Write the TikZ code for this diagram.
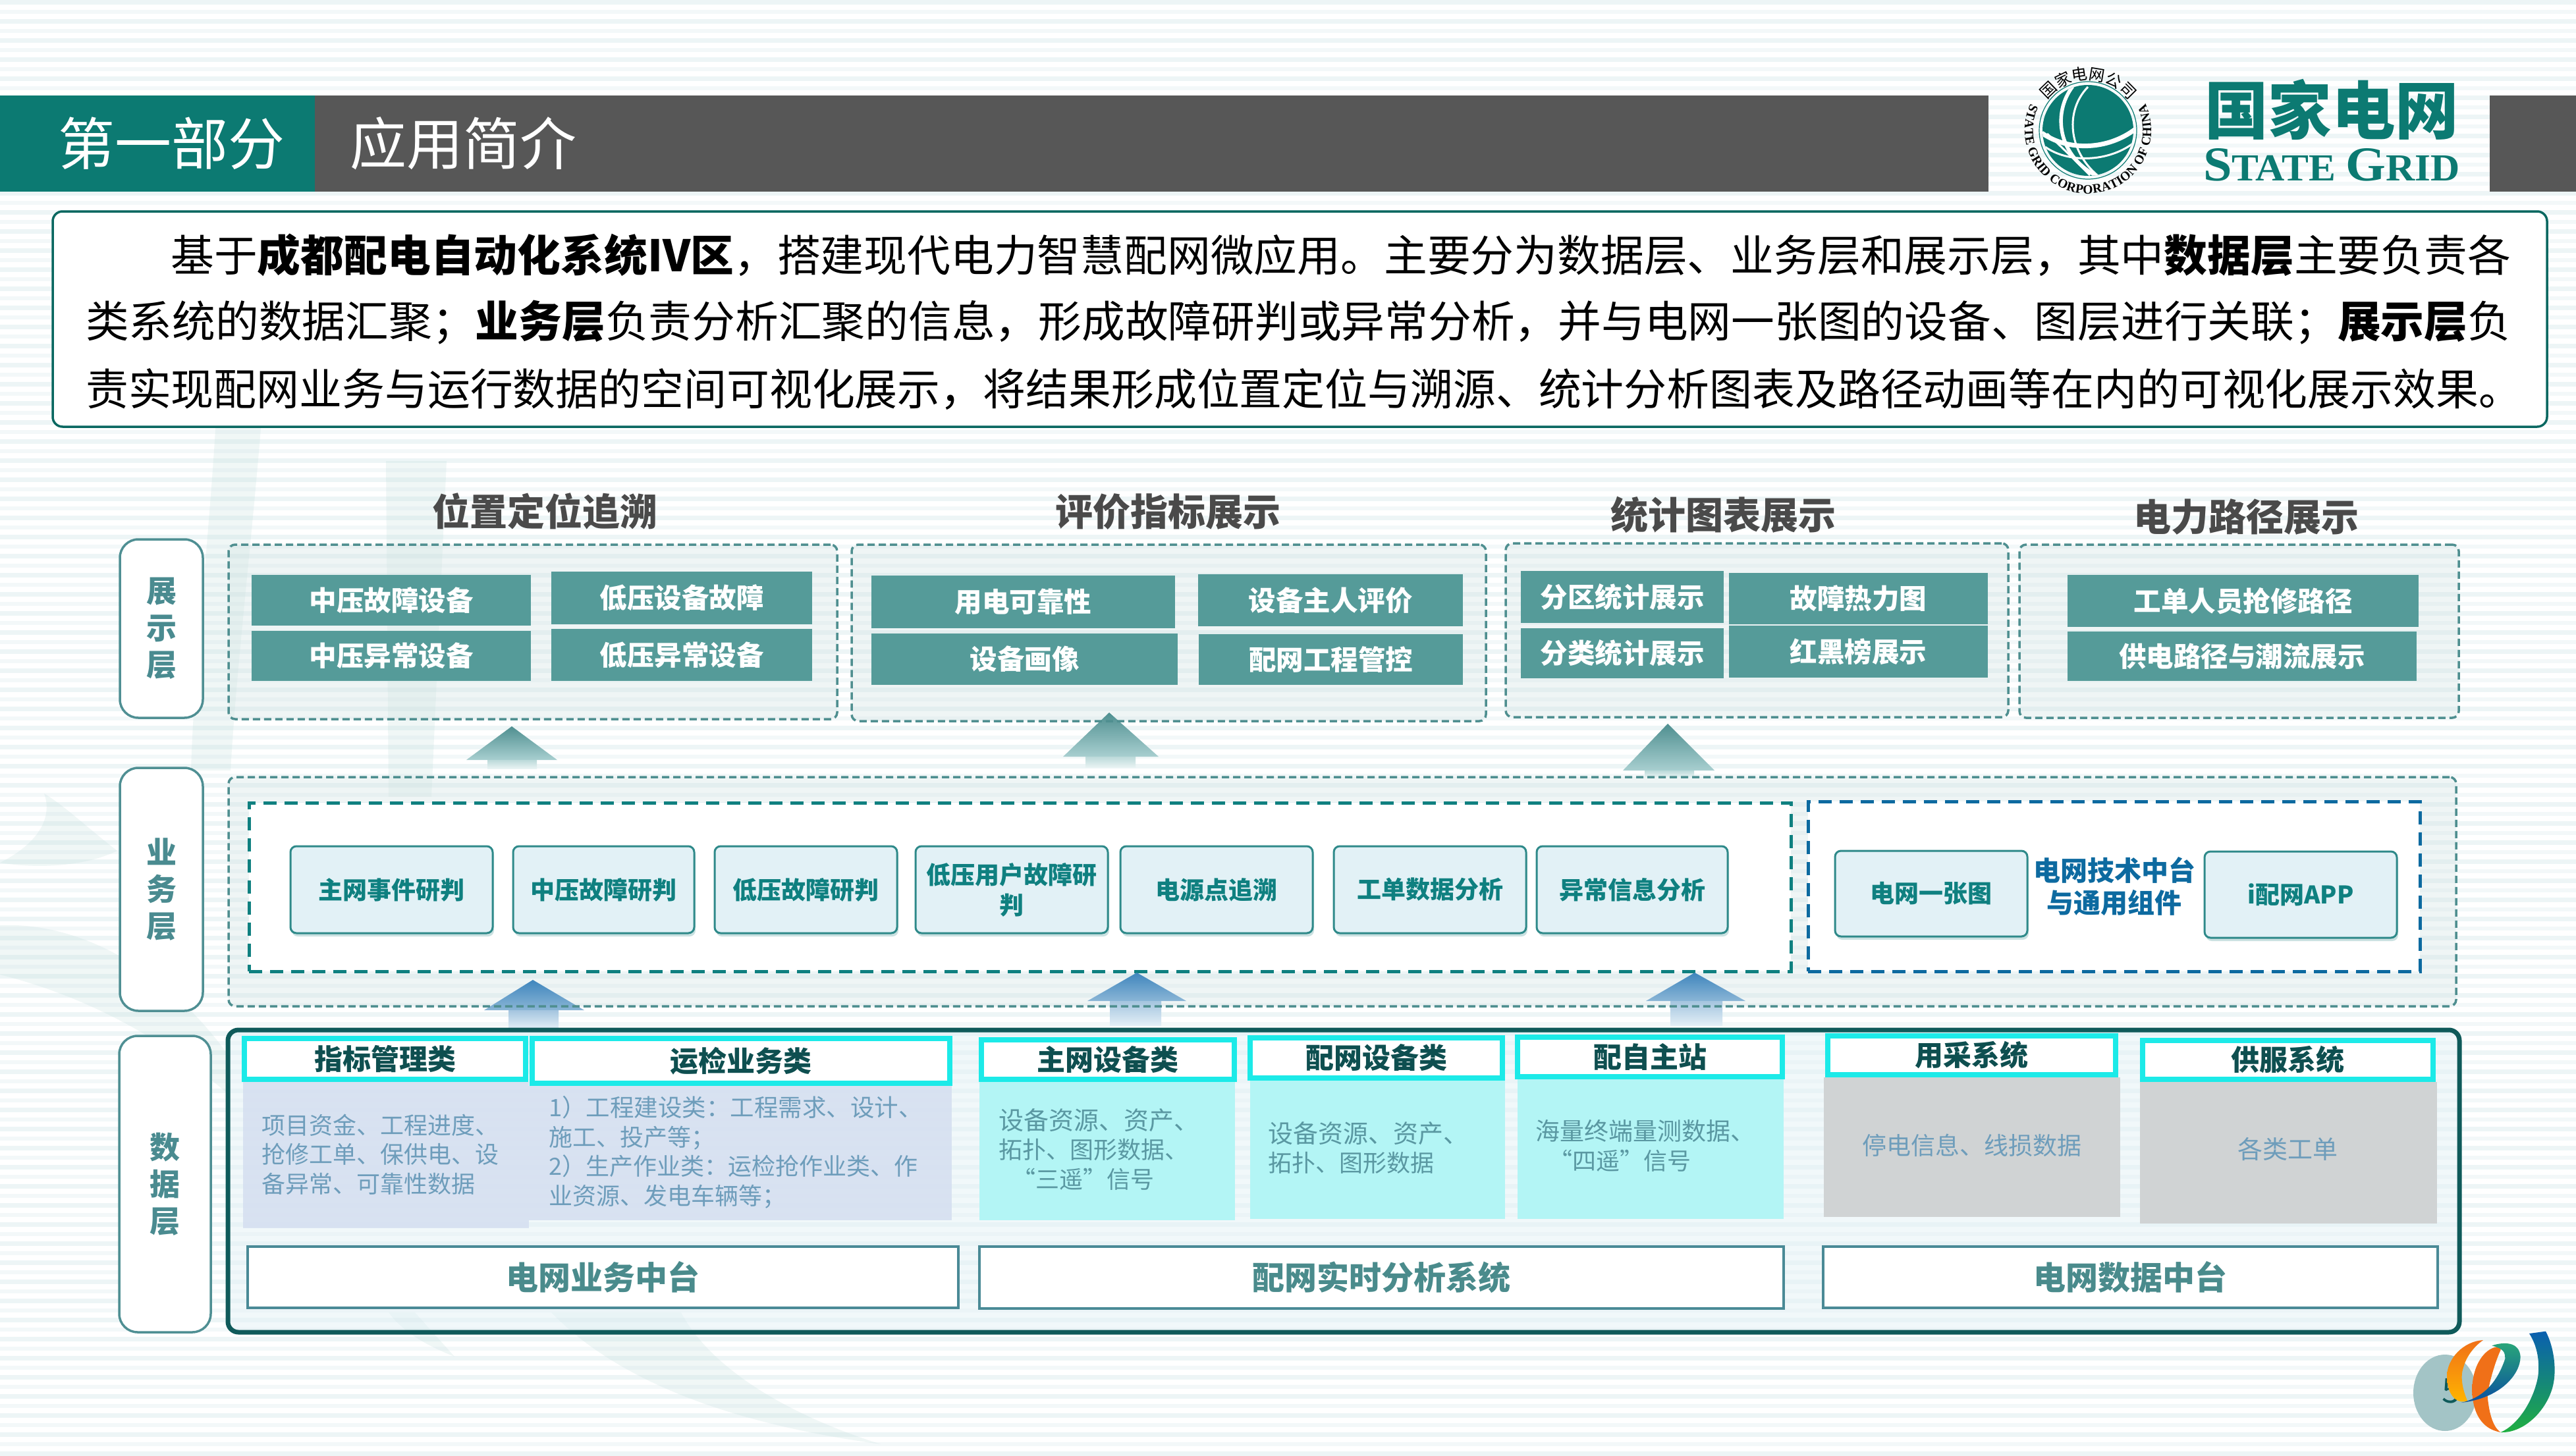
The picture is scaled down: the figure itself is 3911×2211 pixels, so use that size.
\documentclass[tikz,border=0pt]{standalone}
\usepackage{fontspec}
\usepackage{graphicx}
\setmainfont{Noto Sans CJK SC}
\newfontfamily\sealserif{Liberation Serif}[BoldFont={Liberation Serif Bold}]
\usetikzlibrary{shadows,decorations.text}
\definecolor{barteal}{HTML}{0C7A72}
\definecolor{bargray}{HTML}{575757}
\definecolor{gboxc}{HTML}{559B99}
\definecolor{layc}{HTML}{4F8F93}
\definecolor{layt}{HTML}{4A8B90}
\definecolor{dashc}{HTML}{4F8F90}
\definecolor{innerc}{HTML}{0F8080}
\definecolor{innerb}{HTML}{0D6AA0}
\definecolor{bizfill}{HTML}{E2F1F6}
\definecolor{bizline}{HTML}{2F8A8A}
\definecolor{biztext}{HTML}{0F8080}
\definecolor{darkpanel}{HTML}{0F5A5A}
\definecolor{cyanline}{HTML}{1CEAE8}
\definecolor{heada}{HTML}{0E4F50}
\definecolor{lavc}{HTML}{D6E0F1}
\definecolor{cyanfill}{HTML}{B3F5F5}
\definecolor{grayfill}{HTML}{D0D3D4}
\definecolor{bodyblue}{HTML}{6E9DBB}
\definecolor{bodyteal}{HTML}{5A98A2}
\definecolor{platline}{HTML}{4A8A96}
\definecolor{plattext}{HTML}{4A8B8C}
\definecolor{titleg}{HTML}{4A4A4A}
\definecolor{stripe}{HTML}{F3F8F9}
\definecolor{stripeb}{HTML}{EDF5F6}
\definecolor{swoo}{HTML}{B7D8D6}
\definecolor{emblemg}{HTML}{A3C4C6}
\definecolor{ra}{HTML}{0A5FB0}\definecolor{rb}{HTML}{1A90A8}\definecolor{rc}{HTML}{20B040}
\definecolor{oa}{HTML}{F07018}\definecolor{ob}{HTML}{FFB400}
\definecolor{ga}{HTML}{2AA878}\definecolor{gb}{HTML}{1580C8}\definecolor{gc}{HTML}{0A4FA0}
\newcommand{\bx}[7]{%
  \pgfmathsetmacro\cxx{(#3+#5)/2}%
  \pgfmathsetmacro\cyy{(#4+#6)/2}%
  \pgfmathsetmacro\ww{#5-#3}%
  \pgfmathsetmacro\hh{#6-#4}%
  \node[#1,minimum width=\ww pt,minimum height=\hh pt] (#2) at (\cxx,\cyy) {#7};}
\newcommand{\fitline}[2]{\resizebox{#1pt}{\height}{#2}}
\tikzset{
  boxbase/.style={inner sep=0pt,outer sep=0pt,align=center},
  layerbox/.style={boxbase,draw=layc,line width=3.5pt,fill=white,rounded corners=28pt,text=layt,font=\fontsize{46}{56}\selectfont\bfseries},
  panelbox/.style={boxbase,draw=dashc,line width=3.5pt,dash pattern=on 11pt off 6pt,rounded corners=10pt},
  innerbox/.style={boxbase,draw=innerc,line width=5pt,dash pattern=on 20pt off 12pt,fill=white},
  innerboxb/.style={innerbox,draw=innerb},
  gbox/.style={boxbase,fill=gboxc,text=white,font=\fontsize{41.5}{49}\selectfont\bfseries},
  bizbox/.style={boxbase,draw=bizline,line width=3pt,fill=bizfill,rounded corners=9pt,text=biztext,font=\fontsize{37}{46}\selectfont\bfseries,drop shadow={shadow xshift=2pt,shadow yshift=-5pt,opacity=.25,fill=bizline}},
  ttl/.style={inner sep=0pt,text=titleg,font=\fontsize{57}{60}\selectfont\bfseries},
  cathead/.style={boxbase,draw=cyanline,line width=8pt,fill=white,text=heada,font=\fontsize{43}{48}\selectfont\bfseries},
  lavbox/.style={boxbase,fill=lavc,opacity=.9},
  cyanbox/.style={boxbase,fill=cyanfill},
  graybox/.style={boxbase,fill=grayfill},
  bodyt/.style={inner sep=0pt,anchor=west,align=left,text=bodyteal,font=\fontsize{36}{44.5}\selectfont},
  bodyb/.style={bodyt,text=bodyblue},
  platbox/.style={boxbase,draw=platline,line width=3.5pt,fill=white,text=plattext,font=\fontsize{49}{54}\selectfont\bfseries},
  introline/.style={inner sep=0pt,anchor=west,text=black,font=\fontsize{66}{75}\selectfont},
  swoosh/.style={fill=swoo,opacity=.2},
  panelfill/.style={fill=dashc!25,opacity=.35,rounded corners=10pt},
}
\newcommand{\blockup}[9]{%
 % top-x top-y headL headR base-y shaftL shaftR shaft-end, colour prefix
 \shade[top color=#9a,bottom color=#9b] (#1,#2) -- (#4,#5) -- (#3,#5) -- cycle;
 \shade[top color=#9c,bottom color=#9d] (#6,#5) -- (#7,#5) -- (#7,#8) -- (#6,#8) -- cycle;}
\colorlet{Ta}{dashc}\definecolor{Tb}{HTML}{A8CFD0}\definecolor{Tc}{HTML}{BBD9D9}\definecolor{Td}{HTML}{E8F3F3}
\definecolor{Ba}{HTML}{3F86BD}\definecolor{Bb}{HTML}{8AB5D6}\definecolor{Bc}{HTML}{A4C5DF}\definecolor{Bd}{HTML}{E2EEF6}
\begin{document}
\begin{tikzpicture}[x=1pt,y=-1pt]
\useasboundingbox (0,0) rectangle (3911,2211);
% background
\fill[white] (0,0) rectangle (3911,2211);
\foreach \yy in {0,29,...,2211}{
  \fill[stripeb] (0,\yy) rectangle (3911,\yy+7);
  \fill[stripe] (0,\yy+14.5) rectangle (3911,\yy+21);
}
% pale background swooshes
\fill[swoosh] (330,600) -- (400,600) .. controls (385,800) and (360,1000) .. (350,1170) -- (290,1170) .. controls (295,1000) and (320,800) .. (330,600) -- cycle;
\fill[swoosh] (586,700) -- (678,700) -- (655,1210) -- (590,1210) -- cycle;
\fill[swoosh] (0,1310) .. controls (60,1320) and (130,1315) .. (178,1292) .. controls (130,1255) and (100,1225) .. (67,1205) .. controls (80,1240) and (60,1280) .. (0,1310) -- cycle;
\fill[swoosh] (0,1405) .. controls (120,1400) and (250,1470) .. (345,1600) -- (345,1660) .. controls (240,1570) and (120,1510) .. (0,1480) -- cycle;
\fill[swoosh] (837,1993) -- (1034,1993) .. controls (1080,2080) and (1200,2150) .. (1337,2193) .. controls (1170,2170) and (960,2120) .. (837,1993) -- cycle;
\fill[swoosh] (590,1993) -- (630,1993) -- (690,2060) .. controls (640,2040) and (610,2020) .. (590,1993) -- cycle;
% header bars
\fill[barteal] (0,145) rectangle (478,291);
\fill[bargray] (478,145) rectangle (3019,291);
\fill[bargray] (3780,145) rectangle (3911,291);
\node[inner sep=0pt,text=white,font=\fontsize{86}{90}\selectfont] (parttitle) at (260,218) {第一部分};
\node[inner sep=0pt,text=white,font=\fontsize{86}{90}\selectfont] (subtitle) at (703,218) {应用简介};
% State Grid seal
\begin{scope}[shift={(3170,198)},x=1pt,y=1pt]
  \fill[barteal] (0,0) circle (69);
  \draw[barteal,line width=1.2pt] (0,0) circle (74);
  \begin{scope}
    \clip (0,0) circle (69);
    \draw[white,line width=5.5pt] (-23,67) .. controls (-55,25) and (-45,-40) .. (15,-70);
    \draw[white,line width=3pt] (0,66) .. controls (-35,30) and (-30,-30) .. (14,-68);
    \draw[white,line width=7pt] (-70,-4) .. controls (-30,-32) and (30,-30) .. (72,2);
    \draw[white,line width=3pt] (-65,-25) .. controls (-30,-50) and (30,-48) .. (68,-20);
    \draw[white,line width=3pt] (-62,-5) .. controls (-40,-25) and (-20,-45) .. (3,-68);
  \end{scope}
  \path[decorate,decoration={text along path,text align={fit to path},text={|\fontsize{19.5}{20}\selectfont\sealserif\bfseries|STATE GRID CORPORATION OF CHINA}}] (155:96) arc (155:385:96);
  \path[decorate,decoration={text along path,text align={fit to path},text={|\fontsize{24}{24}\selectfont|国家电网公司}}] (143:77) arc (143:36:77);
\end{scope}
\node[inner sep=0pt,text=barteal,font=\fontsize{96}{100}\selectfont\bfseries] (sgcn) at (3540,166) {\resizebox{386pt}{\height}{国家电网}};
\node[inner sep=0pt,text=barteal] (sgen) at (3540,250) {\resizebox{390pt}{\height}{\sealserif\bfseries\fontsize{74}{74}\selectfont S\fontsize{58}{58}\selectfont TATE \fontsize{74}{74}\selectfont G\fontsize{58}{58}\selectfont RID}};
% intro box
\bx{boxbase,draw=barteal!85!black,line width=3.5pt,fill=white,rounded corners=15pt}{introbox}{80}{321}{3867}{648}{}
\node[introline] (intro1) at (259,387) {\fitline{3553}{基于\textbf{成都配电自动化系统IV区}，搭建现代电力智慧配网微应用。主要分为数据层、业务层和展示层，其中\textbf{数据层}主要负责各}};
\node[introline] (intro2) at (130,490) {\fitline{3682}{类系统的数据汇聚；\textbf{业务层}负责分析汇聚的信息，形成故障研判或异常分析，并与电网一张图的设备、图层进行关联；\textbf{展示层}负}};
\node[introline] (intro3) at (130,591) {\fitline{3698}{责实现配网业务与运行数据的空间可视化展示，将结果形成位置定位与溯源、统计分析图表及路径动画等在内的可视化展示效果。}};
% panel titles
\node[ttl] (t1) at (827,776) {位置定位追溯};
\node[ttl] (t2) at (1773,777) {评价指标展示};
\node[ttl] (t3) at (2616,782) {统计图表展示};
\node[ttl] (t4) at (3410,785) {电力路径展示};
% panel fills
\fill[panelfill] (347,827) rectangle (1271,1092);
\fill[panelfill] (1293,827) rectangle (2256,1095);
\fill[panelfill] (2286,825) rectangle (3049,1089);
\fill[panelfill] (3066,827) rectangle (3733,1090);
\fill[panelfill] (347,1180) rectangle (3729,1528);
\fill[fill=bizfill,opacity=.45,rounded corners=14pt] (346,1564) rectangle (3734,2023);
% inner dashed boxes
\bx{innerbox}{biz1}{378}{1219}{2719}{1475}{}
\bx{innerboxb}{biz2}{2745}{1217}{3674}{1475}{}
% block arrows
\blockup{777}{1103}{708}{846}{1154}{740}{815}{1167}{T}
\blockup{1684}{1082}{1614}{1759}{1149}{1648}{1724}{1165}{T}
\blockup{2532}{1099}{2464}{2603}{1170}{2497}{2572}{1180}{T}
\blockup{809}{1488}{735}{887}{1534}{772}{848}{1562}{B}
\blockup{1726}{1477}{1651}{1801}{1520}{1685}{1763}{1557}{B}
\blockup{2573}{1477}{2499}{2650}{1520}{2536}{2615}{1557}{B}
% panel borders
\bx{panelbox}{p1}{347}{827}{1271}{1092}{}
\bx{panelbox}{p2}{1293}{827}{2256}{1095}{}
\bx{panelbox}{p3}{2286}{825}{3049}{1089}{}
\bx{panelbox}{p4}{3066}{827}{3733}{1090}{}
\bx{panelbox}{pb}{347}{1180}{3729}{1528}{}
\bx{boxbase,draw=darkpanel,line width=7pt,rounded corners=16pt}{pd}{346}{1564}{3734}{2023}{}
% layer labels
\bx{layerbox}{l1}{182}{819}{308}{1090}{展\\示\\层}
\bx{layerbox}{l2}{182}{1166}{308}{1535}{业\\务\\层}
\bx{layerbox}{l3}{181}{1573}{320}{2023}{数\\据\\层}
% display layer boxes
\bx{gbox}{a1}{382}{873}{806}{950}{中压故障设备}
\bx{gbox}{a2}{382}{958}{806}{1034}{中压异常设备}
\bx{gbox}{a3}{837}{868}{1233}{948}{低压设备故障}
\bx{gbox}{a4}{837}{955}{1233}{1034}{低压异常设备}
\bx{gbox}{b1}{1323}{874}{1784}{954}{用电可靠性}
\bx{gbox}{b2}{1323}{962}{1788}{1040}{设备画像}
\bx{gbox}{b3}{1819}{872}{2221}{951}{设备主人评价}
\bx{gbox}{b4}{1820}{963}{2221}{1040}{配网工程管控}
\bx{gbox}{c1}{2309}{867}{2617}{946}{分区统计展示}
\bx{gbox}{c2}{2309}{954}{2617}{1030}{分类统计展示}
\bx{gbox}{c3}{2625}{870}{3018}{948}{故障热力图}
\bx{gbox}{c4}{2625}{950}{3018}{1029}{红黑榜展示}
\bx{gbox}{d1}{3139}{873}{3672}{952}{工单人员抢修路径}
\bx{gbox}{d2}{3139}{959}{3669}{1034}{供电路径与潮流展示}
% business layer boxes
\bx{bizbox}{e1}{441}{1285}{748}{1417}{主网事件研判}
\bx{bizbox}{e2}{779}{1285}{1054}{1417}{中压故障研判}
\bx{bizbox}{e3}{1085}{1285}{1362}{1417}{低压故障研判}
\bx{bizbox}{e4}{1390}{1285}{1682}{1417}{低压用户故障研\\判}
\bx{bizbox}{e5}{1701}{1285}{1993}{1417}{电源点追溯}
\bx{bizbox}{e6}{2025}{1285}{2317}{1417}{工单数据分析}
\bx{bizbox}{e7}{2333}{1285}{2623}{1417}{异常信息分析}
\bx{bizbox}{f1}{2786}{1292}{3078}{1422}{电网一张图}
\bx{bizbox}{f2}{3347}{1293}{3639}{1424}{i配网APP}
\node[inner sep=0pt,align=center,text=innerb,font=\fontsize{41}{49}\selectfont\bfseries] (f3) at (3210,1346) {电网技术中台\\与通用组件};
% data layer: content
\bx{lavbox}{g1}{369}{1643}{803}{1865}{}
\bx{lavbox}{g2}{803}{1649}{1445}{1853}{}
\bx{cyanbox}{g3}{1487}{1643}{1875}{1853}{}
\bx{cyanbox}{g4}{1898}{1641}{2285}{1851}{}
\bx{cyanbox}{g5}{2304}{1639}{2708}{1851}{}
\bx{graybox}{g6}{2769}{1636}{3219}{1848}{}
\bx{graybox}{g7}{3249}{1643}{3700}{1858}{}
% data layer: heads
\bx{cathead}{h1}{371}{1577}{798}{1639}{指标管理类}
\bx{cathead}{h2}{808}{1577}{1442}{1645}{运检业务类}
\bx{cathead}{h3}{1490}{1579}{1874}{1639}{主网设备类}
\bx{cathead}{h4}{1898}{1576}{2281}{1637}{配网设备类}
\bx{cathead}{h5}{2304}{1575}{2706}{1635}{配自主站}
\bx{cathead}{h6}{2775}{1573}{3212}{1632}{用采系统}
\bx{cathead}{h7}{3253}{1580}{3694}{1639}{供服系统}
% data layer: body texts
\node[bodyb] (k1) at (397,1753) {\fontsize{36}{44}\selectfont 项目资金、工程进度、\\抢修工单、保供电、设\\备异常、可靠性数据};
\node[bodyb] (k2) at (833,1750) {\fontsize{36.5}{44.5}\selectfont 1）工程建设类：工程需求、设计、\\施工、投产等；\\2）生产作业类：运检抢作业类、作\\业资源、发电车辆等；};
\node[bodyt] (k3) at (1516,1745) {\fontsize{38}{44}\selectfont 设备资源、资产、\\拓扑、图形数据、\\\hspace*{20pt}“三遥”信号};
\node[bodyt] (k4) at (1925,1743) {\fontsize{38}{45}\selectfont 设备资源、资产、\\拓扑、图形数据};
\node[bodyt] (k5) at (2331,1740) {\fontsize{37}{45}\selectfont 海量终端量测数据、\\\hspace*{20pt}“四遥”信号};
\node[bodyb,anchor=center] (k6) at (2994,1739) {\fontsize{37}{44}\selectfont 停电信息、线损数据};
\node[bodyb,anchor=center] (k7) at (3473,1745) {\fontsize{38}{44}\selectfont 各类工单};
% platform boxes
\bx{platbox}{m1}{376}{1893}{1455}{1986}{电网业务中台}
\bx{platbox}{m2}{1487}{1893}{2708}{1987}{配网实时分析系统}
\bx{platbox}{m3}{2768}{1893}{3701}{1986}{电网数据中台}
% bottom-right emblem
\fill[emblemg] (3712,2115) ellipse (48 and 58);
\node[inner sep=0pt,text=darkpanel,font=\fontsize{52}{56}\selectfont] (pageno) at (3722,2112) {5};
\begin{scope}[shift={(3640,2000)},x=0.3333pt,y=-0.3333pt]
  \shade[top color=ra,middle color=rb,bottom color=rc]
    (600,75) -- (675,65) .. controls (715,140) and (730,260) .. (700,340) .. controls (660,450) and (560,530) .. (470,525)
    .. controls (550,490) and (620,380) .. (640,270) .. controls (650,190) and (630,120) .. (600,75) -- cycle;
  \shade[top color=oa,bottom color=ob]
    (390,105) .. controls (300,110) and (225,190) .. (225,270) .. controls (225,330) and (250,380) .. (290,385)
    -- (320,385) .. controls (295,330) and (285,270) .. (300,230) .. controls (310,190) and (340,140) .. (390,105) -- cycle;
  \shade[top color=oa,middle color=ob,bottom color=oa]
    (470,135) .. controls (400,130) and (340,220) .. (340,330) .. controls (340,430) and (380,510) .. (470,525)
    .. controls (430,500) and (415,420) .. (410,360) .. controls (415,300) and (450,190) .. (470,150) -- cycle;
  \shade[top color=ga,middle color=gb,bottom color=gc]
    (430,130) .. controls (490,110) and (555,115) .. (560,180) .. controls (560,260) and (470,370) .. (290,390)
    .. controls (380,370) and (450,310) .. (490,190) .. controls (490,155) and (480,145) .. (430,130) -- cycle;
\end{scope}
\end{tikzpicture}
\end{document}
